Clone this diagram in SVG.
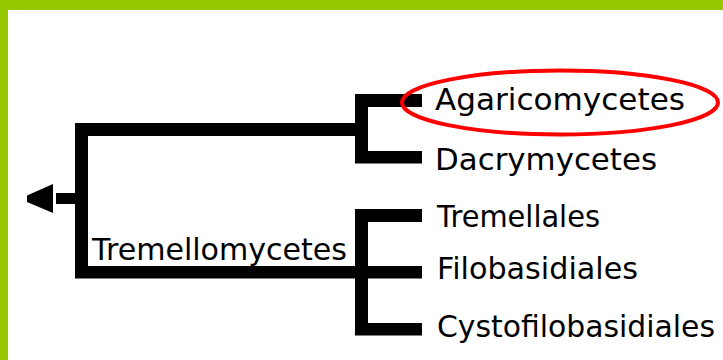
<svg xmlns="http://www.w3.org/2000/svg" width="723" height="360" viewBox="0 0 723 360">
  <style>
    .lbl { font-family: "DejaVu Sans", "Liberation Sans", sans-serif; font-size: 31px; fill: #000; }
    .br { fill: #000; }
    .frame { fill: #95C600; }
  </style>
  <rect x="0" y="0" width="723" height="360" fill="#fff"/>
  <g id="frame">
    <rect class="frame" x="0" y="0" width="723" height="10"/>
    <rect class="frame" x="0" y="0" width="8" height="360"/>
  </g>
  <g id="connectors">
    <polygon class="br" points="27,195.5 53,184 53,213 27,202"/>
    <rect class="br" x="56" y="193" width="20" height="11"/>
    <rect class="br" x="75" y="123" width="13" height="155"/>
    <rect class="br" x="75" y="123" width="293" height="13"/>
    <rect class="br" x="75" y="266" width="347" height="12.5"/>
    <rect class="br" x="355" y="94" width="13" height="69"/>
    <rect class="br" x="355" y="94" width="67" height="13"/>
    <rect class="br" x="355" y="151" width="67" height="12.5"/>
    <rect class="br" x="355" y="209" width="13" height="126"/>
    <rect class="br" x="355" y="209" width="67" height="13"/>
    <rect class="br" x="355" y="323" width="67" height="12.5"/>
  </g>
  <g id="node-tremellomycetes">
    <text class="lbl" x="92" y="260" textLength="255" lengthAdjust="spacingAndGlyphs">Tremellomycetes</text>
  </g>
  <g id="node-agaricomycetes">
    <text class="lbl" x="435" y="110" textLength="250" lengthAdjust="spacingAndGlyphs">Agaricomycetes</text>
    <ellipse cx="560" cy="102.5" rx="158" ry="32" fill="none" stroke="#f00" stroke-width="4"/>
  </g>
  <g id="node-dacrymycetes">
    <text class="lbl" x="435" y="170" textLength="222" lengthAdjust="spacingAndGlyphs">Dacrymycetes</text>
  </g>
  <g id="node-tremellales">
    <text class="lbl" x="437" y="227" textLength="163" lengthAdjust="spacingAndGlyphs">Tremellales</text>
  </g>
  <g id="node-filobasidiales">
    <text class="lbl" x="437" y="279" textLength="201" lengthAdjust="spacingAndGlyphs">Filobasidiales</text>
  </g>
  <g id="node-cystofilobasidiales">
    <text class="lbl" x="437" y="337" style="font-size:30px" textLength="278" lengthAdjust="spacingAndGlyphs">Cystofilobasidiales</text>
  </g>
</svg>
